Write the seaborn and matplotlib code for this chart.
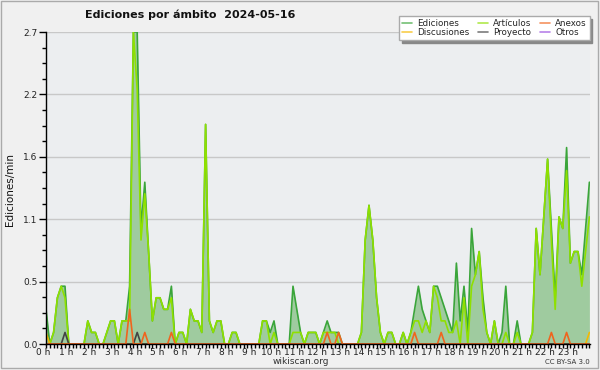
import numpy as np
import pandas as pd
import matplotlib
matplotlib.use("Agg")
import matplotlib.pyplot as plt
import matplotlib.transforms as mtransforms
import seaborn as sns
from matplotlib.lines import Line2D
from matplotlib.patches import Rectangle
from matplotlib.ticker import MultipleLocator, FixedLocator

# Ediciones por minuto, tramos de 10 minutos (144 tramos en el dia)
ediciones = [
    0.3, 0.0, 0.1, 0.4, 0.5, 0.5,   # 0 h
    0.0, 0.0, 0.0, 0.0, 0.0, 0.2,   # 1 h
    0.1, 0.1, 0.0, 0.0, 0.1, 0.2,   # 2 h
    0.2, 0.0, 0.2, 0.2, 0.5, 2.7,   # 3 h
    2.7, 1.0, 1.4, 0.8, 0.2, 0.4,   # 4 h
    0.4, 0.3, 0.3, 0.5, 0.0, 0.1,   # 5 h
    0.1, 0.0, 0.3, 0.2, 0.2, 0.1,   # 6 h
    1.9, 0.2, 0.1, 0.2, 0.2, 0.0,   # 7 h
    0.0, 0.1, 0.1, 0.0, 0.0, 0.0,   # 8 h
    0.0, 0.0, 0.0, 0.2, 0.2, 0.1,   # 9 h
    0.2, 0.0, 0.0, 0.0, 0.0, 0.5,   # 10 h
    0.3, 0.1, 0.0, 0.1, 0.1, 0.1,   # 11 h
    0.0, 0.1, 0.2, 0.1, 0.1, 0.1,   # 12 h
    0.0, 0.0, 0.0, 0.0, 0.0, 0.1,   # 13 h
    0.9, 1.2, 0.9, 0.4, 0.1, 0.0,   # 14 h
    0.1, 0.1, 0.0, 0.0, 0.1, 0.0,   # 15 h
    0.1, 0.3, 0.5, 0.3, 0.2, 0.1,   # 16 h
    0.5, 0.5, 0.4, 0.3, 0.2, 0.1,   # 17 h
    0.7, 0.2, 0.5, 0.1, 1.0, 0.6,   # 18 h
    0.8, 0.4, 0.1, 0.0, 0.2, 0.0,   # 19 h
    0.1, 0.5, 0.0, 0.0, 0.2, 0.0,   # 20 h
    0.0, 0.0, 0.1, 1.0, 0.6, 1.1,   # 21 h
    1.6, 1.0, 0.4, 1.1, 1.0, 1.7,   # 22 h
    0.7, 0.8, 0.8, 0.6, 1.0, 1.4,   # 23 h
]
articulos = [
    0.0, 0.0, 0.1, 0.4, 0.5, 0.4,
    0.0, 0.0, 0.0, 0.0, 0.0, 0.2,
    0.1, 0.1, 0.0, 0.0, 0.1, 0.2,
    0.2, 0.0, 0.2, 0.2, 0.2, 2.7,
    2.2, 0.9, 1.3, 0.8, 0.2, 0.4,
    0.4, 0.3, 0.3, 0.4, 0.0, 0.1,
    0.1, 0.0, 0.3, 0.2, 0.2, 0.1,
    1.9, 0.2, 0.1, 0.2, 0.2, 0.0,
    0.0, 0.1, 0.1, 0.0, 0.0, 0.0,
    0.0, 0.0, 0.0, 0.2, 0.2, 0.0,
    0.1, 0.0, 0.0, 0.0, 0.0, 0.1,
    0.1, 0.1, 0.0, 0.1, 0.1, 0.1,
    0.0, 0.1, 0.1, 0.1, 0.1, 0.0,
    0.0, 0.0, 0.0, 0.0, 0.0, 0.1,
    0.9, 1.2, 0.9, 0.4, 0.1, 0.0,
    0.1, 0.1, 0.0, 0.0, 0.1, 0.0,
    0.1, 0.2, 0.2, 0.1, 0.2, 0.1,
    0.5, 0.4, 0.2, 0.2, 0.1, 0.1,
    0.2, 0.0, 0.4, 0.0, 0.5, 0.6,
    0.8, 0.3, 0.1, 0.0, 0.2, 0.0,
    0.0, 0.1, 0.0, 0.0, 0.1, 0.0,
    0.0, 0.0, 0.1, 1.0, 0.6, 1.1,
    1.6, 0.9, 0.3, 1.1, 1.0, 1.5,
    0.7, 0.8, 0.8, 0.5, 0.8, 1.1,
]
anexos = [0.0] * 144
for i, v in [(22, 0.3), (26, 0.1), (33, 0.1), (74, 0.1), (77, 0.1),
             (97, 0.1), (104, 0.1), (133, 0.1), (137, 0.1)]:
    anexos[i] = v
proyecto = [0.0] * 144
for i, v in [(5, 0.1), (24, 0.1)]:
    proyecto[i] = v
discusiones = [0.0] * 144
for i, v in [(0, 0.1), (143, 0.1)]:
    discusiones[i] = v
otros = [0.0] * 144

minutos = np.arange(144) * 10
horas = ["0 h", "1 h", "2 h", "3 h", "4 h", "5 h", "6 h", "7 h", "8 h", "9 h",
         "10 h", "11 h", "12 h", "13 h", "14 h", "15 h", "16 h", "17 h",
         "18 h", "19 h", "20 h", "21 h", "22 h", "23 h"]
y_ticks = [0.0, 0.54, 1.08, 1.62, 2.16, 2.7]
y_labels = ["0.0", "0.5", "1.1", "1.6", "2.2", "2.7"]

colores = {
    "Ediciones": "#3aa53a",
    "Artículos": "#8fe000",
    "Anexos": "#f0641e",
    "Discusiones": "#f5b800",
    "Proyecto": "#444444",
    "Otros": "#9a4fe0",
}
orden = ["Ediciones", "Artículos", "Otros", "Discusiones", "Proyecto", "Anexos"]

df = pd.DataFrame({
    "minuto": minutos,
    "Ediciones": ediciones,
    "Artículos": articulos,
    "Anexos": anexos,
    "Discusiones": discusiones,
    "Proyecto": proyecto,
    "Otros": otros,
})
largo = df.melt(id_vars="minuto", var_name="ambito", value_name="valor")

sns.set_theme(style="white")
plt.rcParams["font.family"] = ["DejaVu Sans"]

fig = plt.figure(figsize=(6, 3.7), dpi=100, facecolor="#f0f0f0")
ax = fig.add_axes([46 / 600, 26 / 370, 544 / 600, 312 / 370])
ax.set_facecolor("#eceef0")

ax.fill_between(df["minuto"], df["Ediciones"], color="#9fcb9f", lw=0, zorder=1)
sns.lineplot(data=largo, x="minuto", y="valor", hue="ambito", hue_order=orden,
             palette=colores, linewidth=1.2, legend=False, ax=ax, zorder=2)

ax.set_xlim(0, 1431.6)
ax.set_ylim(0, 2.7)
ax.xaxis.set_major_locator(FixedLocator(np.arange(24) * 60))
ax.set_xticklabels(horas)
ax.xaxis.set_minor_locator(MultipleLocator(10))
ax.set_yticks(y_ticks)
ax.set_yticklabels(y_labels)
ax.yaxis.set_minor_locator(MultipleLocator(0.135))
ax.set_xlabel("")
ax.set_ylabel("")

for s in ["top", "right"]:
    ax.spines[s].set_visible(False)
for s in ["left", "bottom"]:
    ax.spines[s].set_color("black")
    ax.spines[s].set_linewidth(1)
    ax.spines[s].set_zorder(5)

ax.yaxis.grid(True, color="#c8c8c8", lw=1)
ax.set_axisbelow(True)
ax.tick_params(axis="x", which="major", length=3, width=1, color="black",
               labelsize=6.5, pad=0, labelcolor="#222222", bottom=True)
ax.tick_params(axis="x", which="minor", length=3, width=1, color="black", bottom=True)
ax.tick_params(axis="y", which="major", length=5, width=1, color="black",
               labelsize=6.5, pad=1, labelcolor="#222222", left=True)
ax.tick_params(axis="y", which="minor", length=3, width=1, color="black", left=True)

# etiquetas de hora un poco a la izquierda de la marca, como en el original
shift = mtransforms.ScaledTranslation(-2.5 / 100, 0, fig.dpi_scale_trans)
for lab in ax.get_xticklabels():
    lab.set_transform(lab.get_transform() + shift)

fig.text(85 / 600, 1 - 15 / 370, "Ediciones por ámbito  2024-05-16",
         fontsize=8, fontweight="bold", ha="left", va="center", color="#111111")
fig.text(10 / 600, 1 - 190 / 370, "Ediciones/min", rotation=90,
         fontsize=7.5, ha="center", va="center", color="#111111")
fig.text(301 / 600, 1 - 362 / 370, "wikiscan.org", fontsize=6.5,
         ha="center", va="center", color="#333333")
fig.text(590 / 600, 1 - 362 / 370, "CC BY-SA 3.0", fontsize=5,
         ha="right", va="center", color="#333333")

leyenda = ["Ediciones", "Discusiones", "Artículos", "Proyecto", "Anexos", "Otros"]
handles = [Line2D([0], [0], color=colores[k], lw=1.2, alpha=0.7) for k in leyenda]
leg = fig.legend(handles, leyenda, ncol=3, loc="upper right",
                 bbox_to_anchor=(594 / 600, 1 - 12 / 370), frameon=True,
                 fancybox=False, edgecolor="#aaaaaa", facecolor="white",
                 framealpha=1, fontsize=6.3, handlelength=1.2, handletextpad=0.6,
                 columnspacing=0.9, labelspacing=0.05, borderpad=0.3,
                 shadow={"color": "#888888", "alpha": 1})

fig.patches.append(Rectangle((1 / 600, 2 / 370), 597 / 600, 367 / 370,
                             transform=fig.transFigure, fill=False,
                             edgecolor="#aaaaaa", lw=1))

fig.savefig("out.png", dpi=100, facecolor=fig.get_facecolor())
